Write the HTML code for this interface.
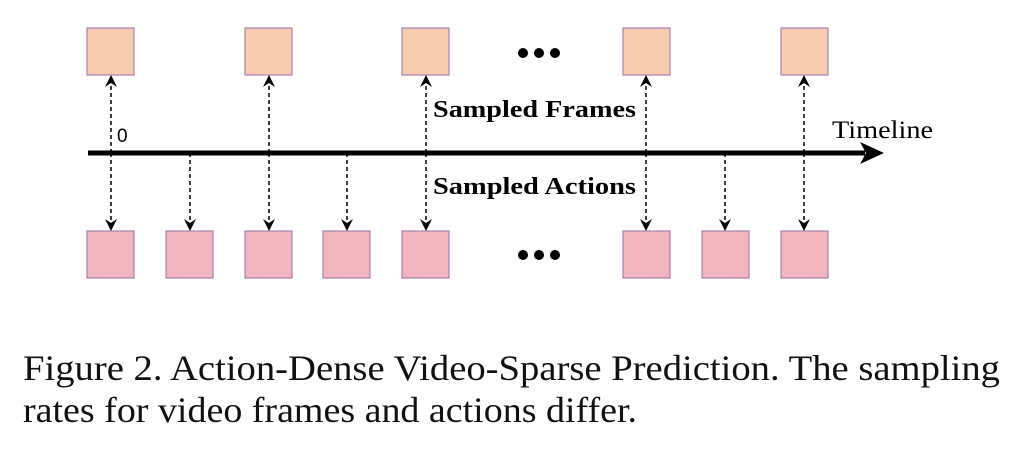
<!DOCTYPE html>
<html><head><style>
body{margin:0;width:1020px;height:454px;background:#fff;overflow:hidden;position:relative;font-family:"Liberation Serif",serif}
</style></head><body>
<svg width="1020" height="454" style="position:absolute;left:0;top:0">
<defs>
<marker id="a" markerWidth="14" markerHeight="14" refX="11" refY="7" orient="auto" markerUnits="userSpaceOnUse"><path d="M0,1 L12,7 L0,13 L4,7 z" fill="#000"/></marker>
</defs>
<g fill="#f7cdb0" stroke="#a87fb0" stroke-width="1.2">
<rect x="87" y="28" width="47" height="47"/><rect x="245" y="28" width="47" height="47"/><rect x="402" y="28" width="47" height="47"/><rect x="623" y="28" width="47" height="47"/><rect x="781" y="28" width="47" height="47"/>
</g>
<g fill="#f2b6c1" stroke="#a87fb0" stroke-width="1.2">
<rect x="87" y="231" width="47" height="47"/><rect x="166" y="231" width="47" height="47"/><rect x="245" y="231" width="47" height="47"/><rect x="323" y="231" width="47" height="47"/><rect x="402" y="231" width="47" height="47"/><rect x="623" y="231" width="47" height="47"/><rect x="702" y="231" width="47" height="47"/><rect x="781" y="231" width="47" height="47"/>
</g>
<line x1="88" y1="153" x2="865" y2="153" stroke="#000" stroke-width="5"/>
<path d="M860,142 L884,153 L860,164 L866,153 z" fill="#000"/>
<g stroke="#000" stroke-width="1.5" stroke-dasharray="4,3" fill="none">
<line x1="111" y1="153" x2="111" y2="230" marker-end="url(#a)"/><line x1="111" y1="153" x2="111" y2="76" marker-end="url(#a)"/>
<line x1="269" y1="153" x2="269" y2="230" marker-end="url(#a)"/><line x1="269" y1="153" x2="269" y2="76" marker-end="url(#a)"/>
<line x1="426" y1="153" x2="426" y2="230" marker-end="url(#a)"/><line x1="426" y1="153" x2="426" y2="76" marker-end="url(#a)"/>
<line x1="646" y1="153" x2="646" y2="230" marker-end="url(#a)"/><line x1="646" y1="153" x2="646" y2="76" marker-end="url(#a)"/>
<line x1="804" y1="153" x2="804" y2="230" marker-end="url(#a)"/><line x1="804" y1="153" x2="804" y2="76" marker-end="url(#a)"/>
<line x1="190" y1="153" x2="190" y2="230" marker-end="url(#a)"/>
<line x1="347" y1="153" x2="347" y2="230" marker-end="url(#a)"/>
<line x1="725" y1="153" x2="725" y2="230" marker-end="url(#a)"/>
</g>
<g fill="#000"><circle cx="523" cy="53" r="5"/><circle cx="539" cy="53" r="5"/><circle cx="555" cy="53" r="5"/><circle cx="523" cy="255" r="5"/><circle cx="539" cy="255" r="5"/><circle cx="555" cy="255" r="5"/></g>
<text x="117" y="142" font-family="Liberation Sans,sans-serif" font-size="19">0</text>
<text x="433" y="117" font-family="Liberation Serif,serif" font-size="24" font-weight="bold" textLength="203" lengthAdjust="spacingAndGlyphs">Sampled Frames</text>
<text x="433" y="194" font-family="Liberation Serif,serif" font-size="24" font-weight="bold" textLength="203" lengthAdjust="spacingAndGlyphs">Sampled Actions</text>
<text x="832" y="138" font-family="Liberation Serif,serif" font-size="25" textLength="101" lengthAdjust="spacingAndGlyphs">Timeline</text>
<text x="23" y="380" font-family="Liberation Serif,serif" font-size="36" fill="#111" textLength="977" lengthAdjust="spacingAndGlyphs">Figure 2. Action-Dense Video-Sparse Prediction. The sampling</text>
<text x="23" y="422" font-family="Liberation Serif,serif" font-size="36" fill="#111" textLength="614" lengthAdjust="spacingAndGlyphs">rates for video frames and actions differ.</text>
</svg>
</body></html>
